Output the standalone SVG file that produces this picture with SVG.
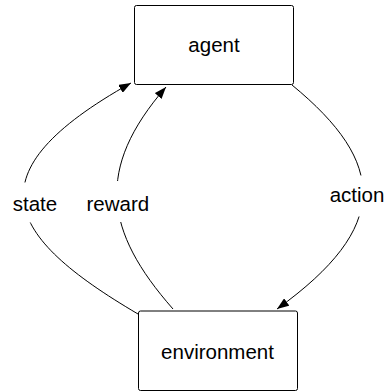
<svg xmlns="http://www.w3.org/2000/svg" width="387" height="392" viewBox="0 0 387 392">
  <style>
    .box { fill: #ffffff; stroke: #000000; stroke-width: 1; }
    .edge { fill: none; stroke: #000000; stroke-width: 1; marker-end: url(#arrow); }
    .label-bg { fill: #ffffff; stroke: none; }
    text { font-family: "Liberation Sans", Arial, Helvetica, sans-serif; font-size: 20.5px; fill: #000000; text-anchor: middle; }
  </style>
  <defs>
    <marker id="arrow" markerUnits="userSpaceOnUse" markerWidth="12" markerHeight="9" refX="12" refY="4.5" orient="auto">
      <path d="M0,0 L12,4.5 L0,9 Z" fill="#000000"/>
    </marker>
  </defs>
  <rect width="387" height="392" fill="#ffffff"/>

  <!-- connectors -->
  <g id="edges">
    <g id="edge-state">
      <path class="edge" d="M138,314 C4.7,235.6 -30.4,173.4 131,83"/>
      <rect class="label-bg" x="2" y="182.5" width="66" height="40"/>
      <text x="35" y="210.7">state</text>
    </g>
    <g id="edge-reward">
      <path class="edge" d="M173,309 C104.4,231 94.7,169 166,87"/>
      <rect class="label-bg" x="82" y="181" width="74" height="41"/>
      <text x="117.8" y="210.7">reward</text>
    </g>
    <g id="edge-action">
      <path class="edge" d="M292,85 C387,163 391,227 277,309"/>
      <rect class="label-bg" x="322" y="175.5" width="65" height="41"/>
      <text x="357" y="201.7">action</text>
    </g>
  </g>

  <!-- nodes -->
  <g id="agent">
    <rect class="box" x="134.5" y="5.5" width="159" height="79" rx="2" ry="2"/>
    <text x="214" y="52.3">agent</text>
  </g>
  <g id="environment">
    <rect class="box" x="138.5" y="311" width="159" height="79.5" rx="2" ry="2"/>
    <text x="217.5" y="359.3">environment</text>
  </g>
</svg>
